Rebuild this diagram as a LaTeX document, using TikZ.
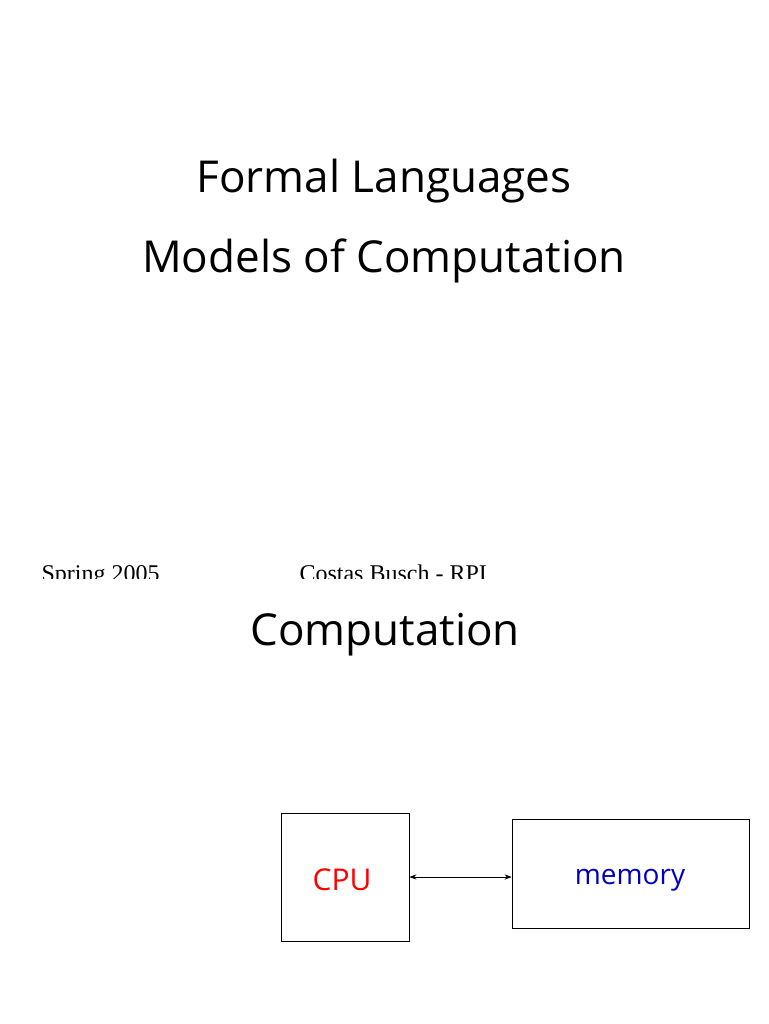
\documentclass[tikz,border=0pt]{standalone}
\usepackage{fontspec}
\setmainfont{Open Sans}
\newfontfamily\serifft{Liberation Serif}
\usetikzlibrary{arrows.meta}
\begin{document}
\begin{tikzpicture}[x=1pt,y=-1pt,
  title/.style={font=\fontsize{44}{50}\selectfont},
  foot/.style={font=\serifft\fontsize{24}{28}\selectfont,anchor=base west},
  box/.style={draw,line width=0.8pt}]
\useasboundingbox (0,0) rectangle (768,1024);
\node[title] (t1) at (384,181) {Formal Languages};
\node[title] (t2) at (384,261) {Models of Computation};
\begin{scope}
\clip (0,500) rectangle (768,578);
\node[foot] (f1) at (38,581) {Spring 2005};
\node[foot] (f2) at (296,581) {Costas Busch - RPI};
\end{scope}
\node[title] (t3) at (385,635) {Computation};
\node[box,minimum width=128pt,minimum height=128pt] (cpu) at (345,877) {};
\node[text=red,font=\fontsize{30}{34}\selectfont] (cpul) at (342,880) {CPU};
\node[box,minimum width=237pt,minimum height=109pt] (mem) at (630.5,873.5) {};
\node[text=blue!75!black,font=\fontsize{28}{32}\selectfont] (meml) at (630,880) {memory};
\draw[{Stealth[length=7pt]}-{Stealth[length=7pt]},line width=0.6pt] (cpu.east |- 0,877) -- (mem.west |- 0,877);
\end{tikzpicture}
\end{document}
